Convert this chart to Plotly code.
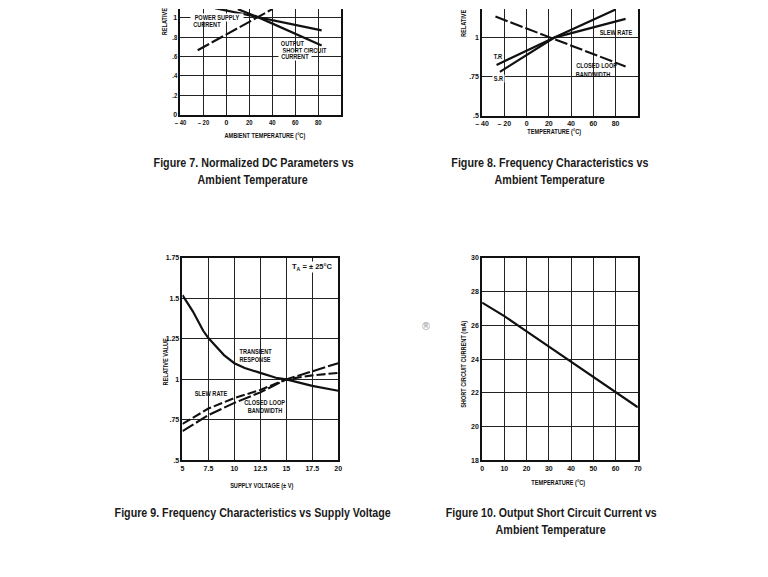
import json
import plotly.graph_objects as go

W, H = 768, 577

# ---------------- data ----------------
# Figure 7: normalized DC parameters vs ambient temperature
fig7_supply_temp = [-10, 27, 83]
fig7_supply_val = [1.10, 1.01, 0.87]
fig7_short_temp = [10, 27, 83]
fig7_short_val = [1.09, 1.01, 0.715]
fig7_rise_temp = [-25, 27, 40]
fig7_rise_val = [0.665, 1.01, 1.09]
fig7_xticks = [-40, -20, 0, 20, 40, 60, 80]
fig7_xtext = ["– 40", "– 20", "0", "20", "40", "60", "80"]
fig7_yticks = [0, 0.2, 0.4, 0.6, 0.8, 1.0]
fig7_ytext = ["0", ".2", ".4", ".6", ".8", "1"]

# Figure 8: frequency characteristics vs ambient temperature
fig8_bw_temp = [-28, 22, 89]
fig8_bw_val = [1.135, 1.0, 0.815]
fig8_tr_temp = [-27, 25, 89]
fig8_tr_val = [0.825, 1.0, 1.12]
fig8_sr_temp = [-24, 25, 80]
fig8_sr_val = [0.78, 1.0, 1.18]
fig8_xticks = [-40, -20, 0, 20, 40, 60, 80]
fig8_xtext = ["– 40", "– 20", "0", "20", "40", "60", "80"]
fig8_yticks = [0.5, 0.75, 1.0, 1.25]
fig8_ytext = [".5", ".75", "1", "1.25"]

# Figure 9: frequency characteristics vs supply voltage
fig9_tr_volt = [5, 6, 7, 7.5, 8, 9, 10, 11, 12.5, 14, 15, 17.5, 20]
fig9_tr_val = [1.52, 1.42, 1.30, 1.255, 1.22, 1.15, 1.10, 1.07, 1.04, 1.01, 1.0, 0.96, 0.93]
fig9_sr_volt = [5, 7.5, 10, 12.5, 15, 17.5, 20]
fig9_sr_val = [0.725, 0.82, 0.885, 0.935, 1.0, 1.025, 1.04]
fig9_bw_volt = [5, 7.5, 10, 12.5, 15, 17.5, 20]
fig9_bw_val = [0.68, 0.78, 0.855, 0.92, 1.0, 1.05, 1.10]
fig9_xticks = [5, 7.5, 10, 12.5, 15, 17.5, 20]
fig9_xtext = ["5", "7.5", "10", "12.5", "15", "17.5", "20"]
fig9_yticks = [0.5, 0.75, 1.0, 1.25, 1.5, 1.75]
fig9_ytext = [".5", ".75", "1", "1.25", "1.5", "1.75"]

# Figure 10: output short circuit current vs ambient temperature
fig10_temp = [0, 10, 20, 30, 40, 50, 60, 70]
fig10_current = [27.35, 26.55, 25.65, 24.75, 23.9, 23.0, 22.05, 21.15]
fig10_xticks = [0, 10, 20, 30, 40, 50, 60, 70]
fig10_yticks = [18, 20, 22, 24, 26, 28, 30]


def px(p):
    return p / W


def py(p):
    return 1 - p / H


NARROW = "Liberation Sans Narrow, Arial Narrow, Liberation Sans, Arial, sans-serif"
tickfont = dict(family=NARROW, size=7, color="#111", weight="bold")

fig = go.Figure()

line_solid = dict(color="#111", width=2.2)
line_dash = dict(color="#111", width=2.1, dash="9px,3px")
line_ldash = dict(color="#111", width=2.1, dash="13px,3px")

fig.add_trace(go.Scatter(x=fig7_supply_temp, y=fig7_supply_val, mode="lines", line=line_solid, xaxis="x", yaxis="y"))
fig.add_trace(go.Scatter(x=fig7_short_temp, y=fig7_short_val, mode="lines", line=line_solid, xaxis="x", yaxis="y"))
fig.add_trace(go.Scatter(x=fig7_rise_temp, y=fig7_rise_val, mode="lines", line=line_ldash, xaxis="x", yaxis="y"))

fig.add_trace(go.Scatter(x=fig8_bw_temp, y=fig8_bw_val, mode="lines", line=line_ldash, xaxis="x2", yaxis="y2"))
fig.add_trace(go.Scatter(x=fig8_tr_temp, y=fig8_tr_val, mode="lines", line=line_solid, xaxis="x2", yaxis="y2"))
fig.add_trace(go.Scatter(x=fig8_sr_temp, y=fig8_sr_val, mode="lines", line=line_solid, xaxis="x2", yaxis="y2"))

fig.add_trace(go.Scatter(x=fig9_tr_volt, y=fig9_tr_val, mode="lines", line=line_solid, xaxis="x3", yaxis="y3"))
fig.add_trace(go.Scatter(x=fig9_sr_volt, y=fig9_sr_val, mode="lines", line=line_dash, xaxis="x3", yaxis="y3"))
fig.add_trace(go.Scatter(x=fig9_bw_volt, y=fig9_bw_val, mode="lines", line=line_ldash, xaxis="x3", yaxis="y3"))

fig.add_trace(go.Scatter(x=fig10_temp, y=fig10_current, mode="lines", line=line_solid, xaxis="x4", yaxis="y4"))


def xax(domain, rng, tv, tt, anchor, mirror):
    return dict(domain=domain, range=rng, tickvals=tv, ticktext=tt, anchor=anchor,
                showgrid=True, gridcolor="#222", gridwidth=1, zeroline=False,
                showline=True, linecolor="#111", linewidth=1.6, mirror=mirror,
                ticks="", tickfont=tickfont, fixedrange=True)


def yax(domain, rng, tv, tt, anchor):
    return dict(domain=domain, range=rng, tickvals=tv, ticktext=tt, anchor=anchor,
                showgrid=True, gridcolor="#222", gridwidth=1, zeroline=False,
                showline=True, linecolor="#111", linewidth=1.6, mirror=True,
                ticks="", tickfont=tickfont, fixedrange=True)


top_dom = [py(112), py(5)]
top2_dom = [py(113), py(5)]
bot_dom = [py(462), py(257)]

fig.update_layout(
    width=W, height=H, margin=dict(l=0, r=0, t=0, b=0),
    paper_bgcolor="white", plot_bgcolor="white", showlegend=False,
    xaxis=xax([px(176), px(339)], [-40, 100], fig7_xticks, fig7_xtext, "y", False),
    yaxis=yax(top_dom, [0, 1.092], fig7_yticks, fig7_ytext, "x"),
    xaxis2=xax([px(482), px(640)], [-40, 100], fig8_xticks, fig8_xtext, "y2", False),
    yaxis2=yax(top2_dom, [0.5, 1.1835], fig8_yticks, fig8_ytext, "x2"),
    xaxis3=xax([px(178), px(336)], [5, 20], fig9_xticks, fig9_xtext, "y3", True),
    yaxis3=yax(bot_dom, [0.5, 1.75], fig9_yticks, fig9_ytext, "x3"),
    xaxis4=xax([px(482), px(640)], [0, 70], fig10_xticks, [str(v) for v in fig10_xticks], "y4", True),
    yaxis4=yax(bot_dom, [18, 30], fig10_yticks, [str(v) for v in fig10_yticks], "x4"),
)

small = dict(family=NARROW, size=6.5, color="#111", weight="bold")
anns = []


def lab(text, x, y, font=small, angle=0, xanchor="center", bg=None, align="center"):
    d = dict(text=text, x=px(x), y=py(y), xref="paper", yref="paper", showarrow=False,
             xanchor=xanchor, yanchor="middle", font=font, textangle=angle, align=align,
             borderpad=0)
    if bg:
        d["bgcolor"] = bg
    anns.append(d)


# axis titles
lab("RELATIVE", 160, 18, angle=-90)
lab("AMBIENT TEMPERATURE (°C)", 262, 134)
lab("RELATIVE", 463, 19, angle=-90)
lab("TEMPERATURE (°C)", 555, 130)
lab("RELATIVE VALUE", 161, 362, angle=-90)
lab("SUPPLY VOLTAGE (± V)", 258, 488)
lab("SHORT CIRCUIT CURRENT (mA)", 463, 365, angle=-90)
lab("TEMPERATURE (°C)", 559, 485)

# curve labels figure 7
lab("POWER SUPPLY", 186, 14, xanchor="left", bg="white")
lab("CURRENT", 186, 21, xanchor="left")
lab("OUTPUT", 275, 40, xanchor="left")
lab("SHORT CIRCUIT", 275, 47, xanchor="left")
lab("CURRENT", 275, 53, xanchor="left", bg="white")

# figure 8
lab("SLEW RATE", 598, 29, xanchor="left")
lab("T.R", 492, 53, xanchor="left")
lab("S.R", 492, 75, xanchor="left", bg="white")
lab("CLOSED LOOP", 573, 62, xanchor="left")
lab("BANDWIDTH", 573, 71, xanchor="left")

# figure 9
lab("T<sub>A</sub> = ± 25°C", 309, 266, font=dict(family=NARROW, size=7.5, color="#111", weight="bold"), bg="white")
lab("TRANSIENT", 252, 352)
lab("RESPONSE", 252, 360)
lab("SLEW RATE", 207, 394)
lab("CLOSED LOOP", 262, 403)
lab("BANDWIDTH", 262, 411)

# stray mark
lab("®", 425, 326, font=dict(family="DejaVu Sans", size=10, color="#9a9a9a"))

# captions (text, centre x, centre y, target width in px)
captions = [
    ("Figure 7. Normalized DC Parameters vs", 250, 161, 200),
    ("Ambient Temperature", 249, 178, 110),
    ("Figure 8. Frequency Characteristics vs", 551, 161, 197),
    ("Ambient Temperature", 550, 178, 110),
    ("Figure 9. Frequency Characteristics vs Supply Voltage", 249, 515, 276),
    ("Figure 10. Output Short Circuit Current vs", 552, 515, 211),
    ("Ambient Temperature", 551, 532, 110),
]
cap = dict(family=NARROW, size=12.6, color="#1a1a1a", weight="bold")
for t, x, y, _w in captions:
    lab(t, x, y, font=cap)

fig.update_layout(annotations=anns)

widths = {t: w for t, x, y, w in captions}
post = """
var widths = %s;
function squeeze(){
  document.querySelectorAll('text.annotation-text').forEach(function(el){
    var s = el.textContent;
    if (el.getAttribute('data-sq')) return;
    if (widths.hasOwnProperty(s)) {
      el.setAttribute('textLength', widths[s]);
      el.setAttribute('lengthAdjust', 'spacingAndGlyphs');
      el.setAttribute('data-sq', '1');
    } else if (el.querySelectorAll('tspan').length === 0 && s.length > 1) {
      var w = el.getComputedTextLength();
      if (w > 0) {
        el.setAttribute('textLength', (w * 0.86).toFixed(2));
        el.setAttribute('lengthAdjust', 'spacingAndGlyphs');
        el.setAttribute('data-sq', '1');
      }
    }
  });
  document.querySelectorAll('g.xtick text, g.ytick text').forEach(function(el){
    if (el.getAttribute('data-sq')) return;
    var w = el.getComputedTextLength();
    if (w > 0 && el.textContent.length > 1) {
      el.setAttribute('textLength', (w * 0.85).toFixed(2));
      el.setAttribute('lengthAdjust', 'spacingAndGlyphs');
      el.setAttribute('data-sq', '1');
    }
  });
}
squeeze();
setTimeout(squeeze, 0);
setTimeout(squeeze, 200);
""" % json.dumps(widths)

fig.write_html("out.html", post_script=post)
